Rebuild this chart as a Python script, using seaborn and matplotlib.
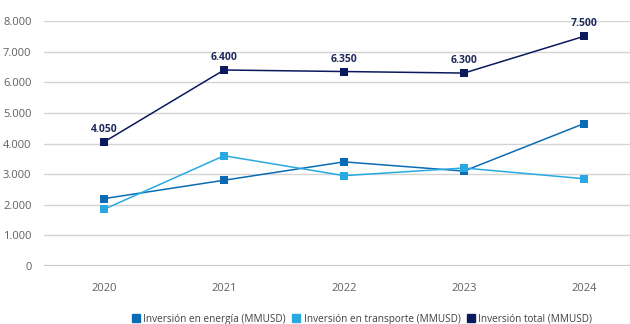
import seaborn as sns
import matplotlib.pyplot as plt
import pandas as pd

# Values (MMUSD)
years = ["2020", "2021", "2022", "2023", "2024"]
energia = [2200, 2800, 3400, 3100, 4650]
transporte = [1850, 3600, 2950, 3200, 2850]
total = [4050, 6400, 6350, 6300, 7500]

series_names = [
    "Inversión en energía (MMUSD)",
    "Inversión en transporte (MMUSD)",
    "Inversión total (MMUSD)",
]
colors = ["#0a6cb5", "#29a9e1", "#0b1a5c"]

df = pd.DataFrame({
    "year": years * 3,
    "value": energia + transporte + total,
    "serie": [series_names[0]] * 5 + [series_names[1]] * 5 + [series_names[2]] * 5,
})

sns.set_style("white")
plt.rcParams["font.family"] = ["Open Sans", "DejaVu Sans"]

fig = plt.figure(figsize=(6.3, 3.24), dpi=100)
ax = fig.add_axes([44 / 630, 58 / 324, 1 - 44 / 630, 245 / 324])

sns.lineplot(
    data=df, x="year", y="value", hue="serie",
    palette=colors, hue_order=series_names,
    marker="s", markersize=5.5, markeredgewidth=0,
    linewidth=1.1, ax=ax, legend=False,
)

# Data labels for the total
for i, v in enumerate(total):
    ax.annotate(f"{v:,}".replace(",", "."), (i, v), xytext=(0, 5),
                textcoords="offset points", ha="center", va="bottom",
                fontsize=7.5, fontweight="bold", color="#1f2a5c",
                annotation_clip=False)

ax.set_xlim(-0.5, (630 - 104) / 120)
ax.set_ylim(0, 8000)
ax.set_yticks(range(0, 8001, 1000))
ax.set_yticklabels([f"{t:,}".replace(",", ".") for t in range(0, 8001, 1000)])
ax.yaxis.grid(True, color="#d4d4d4", linewidth=1)
ax.axhline(0, color="#c8c8c8", linewidth=1.6, zorder=0)
ax.set_axisbelow(True)
for s in ax.spines.values():
    s.set_visible(False)
ax.tick_params(axis="both", length=0, labelsize=8, labelcolor="#606060")
ax.tick_params(axis="y", pad=9)
ax.tick_params(axis="x", pad=12)
ax.set_xlabel("")
ax.set_ylabel("")

handles = [plt.Line2D([], [], marker="s", linestyle="", markersize=5.5,
                      color=c) for c in colors]
fig.legend(handles, series_names, loc="lower center", ncol=3,
           bbox_to_anchor=(0.575, -0.03), frameon=False, fontsize=7.2,
           handlelength=0.7, handletextpad=0.4, columnspacing=0.7,
           labelcolor="#404040")

fig.savefig("out.png", dpi=100)
